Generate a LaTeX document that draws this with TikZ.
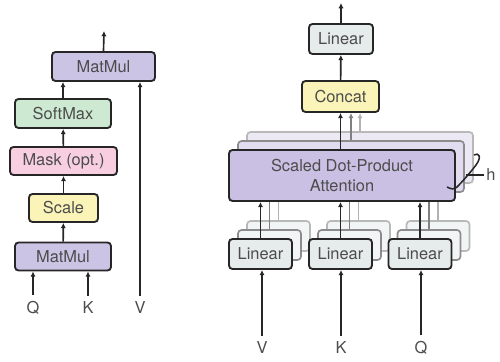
\documentclass[tikz,border=0pt]{standalone}
\usepackage{fontspec}
\setsansfont{TeX Gyre Heros}
\usepackage{tikz}
\usetikzlibrary{arrows.meta}
\definecolor{matmulc}{HTML}{CCC4E5}
\definecolor{softc}{HTML}{CEE9D2}
\definecolor{maskc}{HTML}{F7CFE1}
\definecolor{scalec}{HTML}{FAF4B8}
\definecolor{linc}{HTML}{E6ECEB}
\definecolor{sdpac}{HTML}{C9C0E3}

\begin{document}
\begin{tikzpicture}[x=0.03cm,y=-0.03cm,
    blk/.style={draw=black!85,line width=1.6pt,rounded corners=3pt,inner sep=0pt,
        font=\sffamily\fontsize{14}{17}\selectfont,text=black!70,fill=#1},
    ghost/.style={draw=black!#1,line width=1.4pt,rounded corners=3pt,inner sep=0pt},
    lbl/.style={font=\sffamily\fontsize{14}{17}\selectfont,text=black!70,inner sep=2pt},
    flow/.style={-{Latex[length=4.5pt,width=4.5pt]},line width=1.4pt,black!85},
    gflow/.style={-{Latex[length=4.5pt,width=4.5pt]},line width=1.3pt,black!#1}
]
\useasboundingbox (0,0) rectangle (500,361);

% Scaled dot-product attention
\node[blk=matmulc,minimum width=3.09cm,minimum height=0.87cm] (mm2) at (103.5,66.5) {MatMul};
\node[blk=softc,minimum width=2.88cm,minimum height=0.87cm] (soft) at (63,113.5) {SoftMax};
\node[blk=maskc,minimum width=3.21cm,minimum height=0.84cm] (mask) at (63.5,161) {Mask (opt.)};
\node[blk=scalec,minimum width=2.07cm,minimum height=0.84cm] (scale) at (63.5,208) {Scale};
\node[blk=matmulc,minimum width=2.88cm,minimum height=0.84cm] (mm1) at (63,256.5) {MatMul};

\node[lbl] (q) at (33,308) {Q};
\node[lbl] (k) at (88,308) {K};
\node[lbl] (v) at (140,308) {V};
\coordinate (outl) at (104,31);

\draw[flow,shorten <=3pt] (q.north) -- (q.north |- mm1.south);
\draw[flow,shorten <=3pt] (k.north) -- (k.north |- mm1.south);
\draw[flow,shorten <=3pt] (v.north) -- (v.north |- mm2.south);
\draw[flow] (mm1) -- (scale);
\draw[flow] (scale) -- (mask);
\draw[flow] (mask) -- (soft);
\draw[flow] (soft.north) -- (soft.north |- mm2.south);
\draw[flow] (mm2.north) -- (outl);

% Multi-head attention, the heads behind
\foreach \i/\g/\f in {2/28/35,1/45/55} {
    \node[ghost=\g,fill=sdpac!\f!white,minimum width=6.78cm,minimum height=1.53cm]
        (sdpa\i) at (342+9*\i,175.5-9*\i) {};
}
\foreach \n/\xx in {v/260.5,k/340.5,q/420} {
    \foreach \i/\g in {2/28,1/45} {
        \node[ghost=\g,fill=linc!50!white,minimum width=1.89cm,minimum height=0.9cm]
            (lin\n\i) at (\xx+9*\i,254-9*\i) {};
    }
}

% front head
\node[blk=sdpac,minimum width=6.78cm,minimum height=1.53cm,align=center]
    (sdpa) at (342,175.5) {Scaled Dot-Product\\Attention};
\node[blk=linc,minimum width=1.89cm,minimum height=0.9cm] (linv) at (260.5,254) {Linear};
\node[blk=linc,minimum width=1.89cm,minimum height=0.9cm] (link) at (340.5,254) {Linear};
\node[blk=linc,minimum width=1.89cm,minimum height=0.9cm] (linq) at (420,254) {Linear};
\node[blk=scalec,minimum width=2.31cm,minimum height=0.93cm] (concat) at (340.5,96.5) {Concat};
\node[blk=linc,minimum width=1.92cm,minimum height=0.9cm] (lint) at (341,39) {Linear};

\node[lbl] (rv) at (262,348) {V};
\node[lbl] (rk) at (341,348) {K};
\node[lbl] (rq) at (421,348) {Q};
\coordinate (outr) at (341,3);

\foreach \n in {v,k,q} {
    \foreach \i/\g in {2/30,1/50} {
        \draw[line width=1.3pt,black!\g] (lin\n\i.north) -- (lin\n\i.north |- sdpa.south);
    }
}
\foreach \i/\g in {2/30,1/50} {
    \draw[gflow=\g] (sdpa\i.north) -- (sdpa\i.north |- concat.south);
}

\draw[flow,shorten <=3pt] (rv.north) -- (rv.north |- linv.south);
\draw[flow,shorten <=3pt] (rk.north) -- (rk.north |- link.south);
\draw[flow,shorten <=3pt] (rq.north) -- (rq.north |- linq.south);
\draw[flow] (linv.north) -- (linv.north |- sdpa.south);
\draw[flow] (link.north) -- (link.north |- sdpa.south);
\draw[flow] (linq.north) -- (linq.north |- sdpa.south);
\draw[flow] (concat.south |- sdpa.north) -- (concat);
\draw[flow] (concat) -- (lint);
\draw[flow] (lint) -- (outr);

% number of heads
\node[lbl] (hlab) at (491,175) {h};
\draw[line width=1.3pt,black!85] (474,155) .. controls (479,152) and (482,157) .. (476,165)
    .. controls (470,173) and (462,182) .. (457,187)
    .. controls (454,190) and (451,189) .. (447,187);
\draw[line width=1.1pt,black!85] (466,175) -- (hlab.west);

\end{tikzpicture}
\end{document}
